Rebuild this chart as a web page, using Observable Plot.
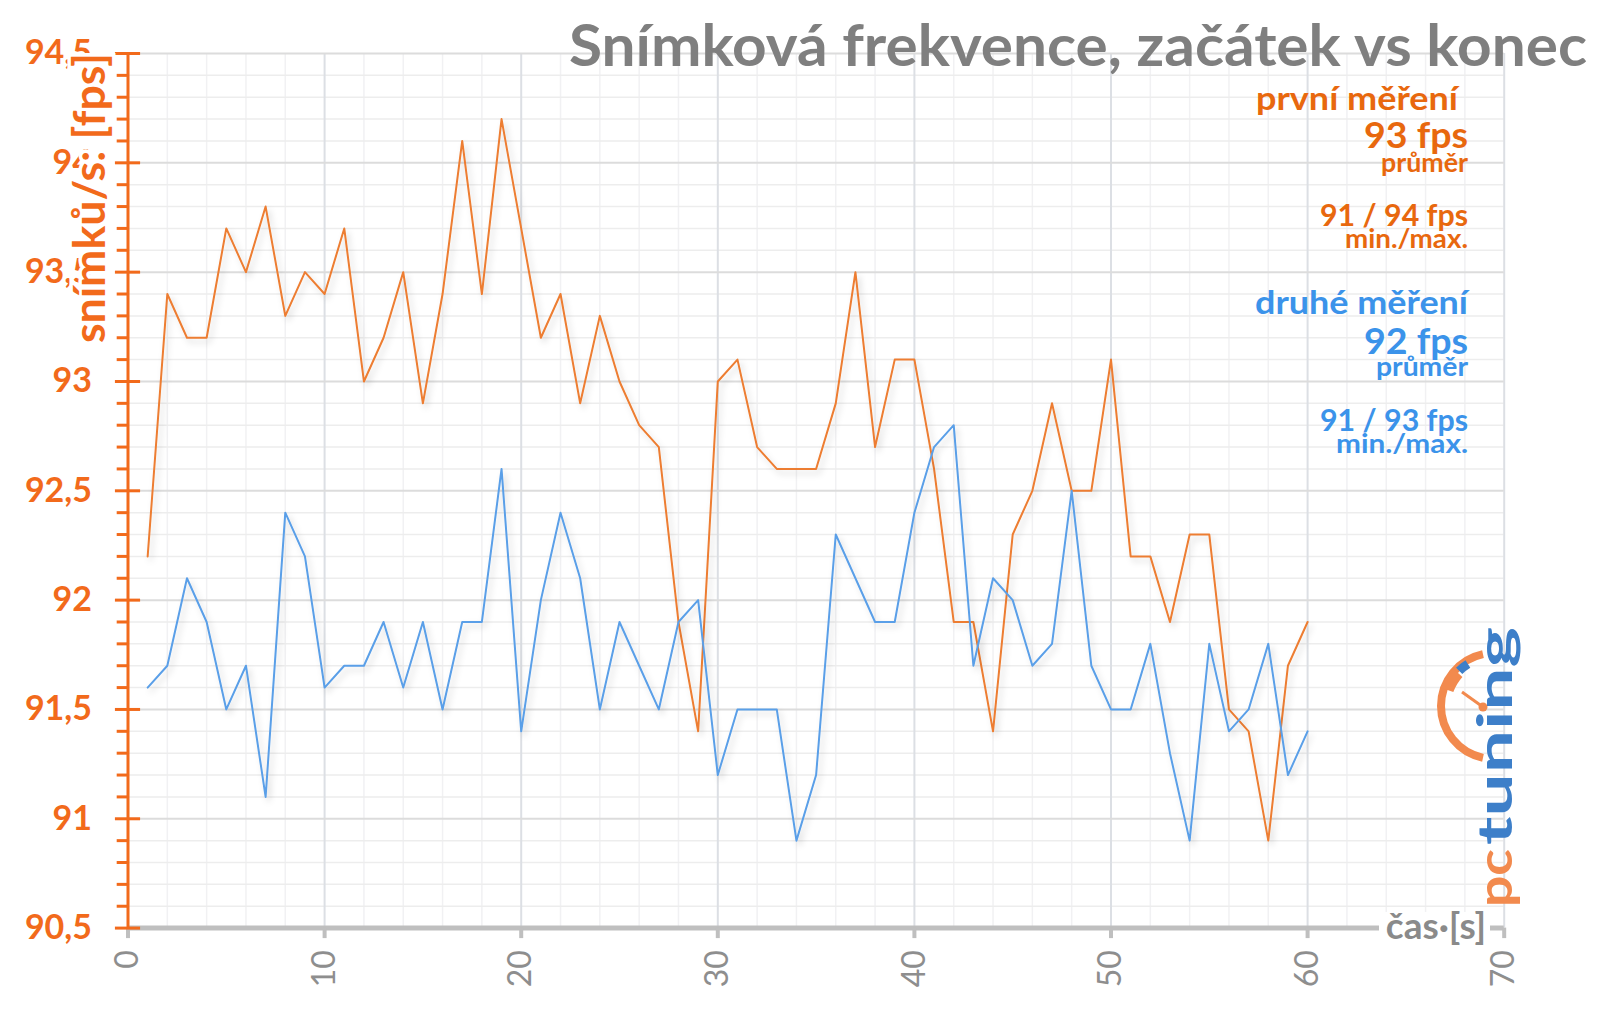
<!DOCTYPE html>
<html>
<head>
<meta charset="utf-8">
<script src="https://cdn.jsdelivr.net/npm/d3@7"></script>
<script src="https://cdn.jsdelivr.net/npm/@observablehq/plot@0.6"></script>
<style>
  html, body { margin: 0; padding: 0; background: #ffffff; }
  #chart svg { display: block; }
</style>
</head>
<body>
<div id="chart"></div>
<script>
// ---------- data ----------
const seconds = [1,2,3,4,5,6,7,8,9,10,11,12,13,14,15,16,17,18,19,20,21,22,23,24,25,26,27,28,29,30,
                 31,32,33,34,35,36,37,38,39,40,41,42,43,44,45,46,47,48,49,50,51,52,53,54,55,56,57,58,59,60];
const prvniMereni = [92.2,93.4,93.2,93.2,93.7,93.5,93.8,93.3,93.5,93.4,93.7,93.0,93.2,93.5,92.9,93.4,94.1,93.4,94.2,93.7,
                     93.2,93.4,92.9,93.3,93.0,92.8,92.7,91.9,91.4,93.0,93.1,92.7,92.6,92.6,92.6,92.9,93.5,92.7,93.1,93.1,
                     92.6,91.9,91.9,91.4,92.3,92.5,92.9,92.5,92.5,93.1,92.2,92.2,91.9,92.3,92.3,91.5,91.4,90.9,91.7,91.9];
const druheMereni = [91.6,91.7,92.1,91.9,91.5,91.7,91.1,92.4,92.2,91.6,91.7,91.7,91.9,91.6,91.9,91.5,91.9,91.9,92.6,91.4,
                     92.0,92.4,92.1,91.5,91.9,91.7,91.5,91.9,92.0,91.2,91.5,91.5,91.5,90.9,91.2,92.3,92.1,91.9,91.9,92.4,
                     92.7,92.8,91.7,92.1,92.0,91.7,91.8,92.5,91.7,91.5,91.5,91.8,91.3,90.9,91.8,91.4,91.5,91.8,91.2,91.4];
const yTickValues = [90.5,91,91.5,92,92.5,93,93.5,94,94.5];
const xTickValues = [0,10,20,30,40,50,60,70];
const chartTitle = "Snímková frekvence, začátek vs konec";
const yAxisTitle = "snímků/s: [fps]";
const xAxisTitle = "čas·[s]";
const legendFirst = ["první měření", "93 fps", "průměr", "91 / 94 fps", "min./max."];
const legendSecond = ["druhé měření", "92 fps", "průměr", "91 / 93 fps", "min./max."];
const logoParts = ["pc", "tuning"];

// ---------- derived tables ----------
const series1 = seconds.map((s, i) => ({s, v: prvniMereni[i]}));
const series2 = seconds.map((s, i) => ({s, v: druheMereni[i]}));
const xMinor = d3.range(0, 71, 2).filter(d => d % 10 !== 0);
const yMinor = d3.range(905, 946).filter(d => d % 5 !== 0).map(d => d / 10);
const fmtComma = d => String(d).replace(".", ",");

// ---------- colours ----------
const cOrangeAxis = "#f26a1b";
const cOrangeLine = "#ed7d31";
const cBlueLine = "#5a9fe8";
const cOrangeText = "#e8680e";
const cBlueText = "#3b93ea";
const cGray = "#7f7f7f";
const cLogoOrange = "#f28a4e";
const cLogoBlue = "#3d7fc9";

const W = 1600, H = 1010;

const plot = Plot.plot({
  width: W,
  height: H,
  marginLeft: 127.5,
  marginRight: 96.3,
  marginTop: 53,
  marginBottom: 82.4,
  style: {fontFamily: "Lato, 'Open Sans', sans-serif", background: "#ffffff", overflow: "visible"},
  x: {domain: [0, 70], axis: null},
  y: {domain: [90.5, 94.5], axis: null},
  marks: [
    // grid
    Plot.ruleX(xMinor, {stroke: "#f1f1f3", strokeWidth: 1.5}),
    Plot.ruleY(yMinor, {stroke: "#ededed", strokeWidth: 1.5}),
    Plot.ruleX(xTickValues, {stroke: "#dcdfe4", strokeWidth: 2}),
    Plot.ruleY(yTickValues, {stroke: "#dcdcdc", strokeWidth: 2}),
    // data lines
    Plot.line(series1, {x: "s", y: "v", stroke: cOrangeLine, strokeWidth: 2}),
    Plot.line(series2, {x: "s", y: "v", stroke: cBlueLine, strokeWidth: 2}),
    // x axis
    Plot.ruleY([90.5], {stroke: "#bfbfbf", strokeWidth: 5}),
    Plot.ruleX(xTickValues, {y1: 90.5, y2: 90.452, stroke: "#bfbfbf", strokeWidth: 4}),
    Plot.text(xTickValues, {x: d => d, y: 90.5, text: d => String(d), rotate: -90, textAnchor: "end",
      dy: 22, fill: "#8e8e8e", fontSize: 32}),
    // y axis
    Plot.ruleY(yMinor, {x1: -0.55, x2: 0, stroke: cOrangeAxis, strokeWidth: 3}),
    Plot.ruleY(yTickValues, {x1: -0.64, x2: 0.64, stroke: cOrangeAxis, strokeWidth: 3}),
    Plot.ruleX([0], {stroke: cOrangeAxis, strokeWidth: 3}),
    Plot.text(yTickValues, {x: 0, y: d => d, text: fmtComma, textAnchor: "end", dx: -36,
      fill: cOrangeAxis, fontSize: 34, fontWeight: "bold"})
  ]
});

document.getElementById("chart").appendChild(plot);

// ---------- annotations ----------
const svg = d3.select(plot);

// line shadow
const defs = svg.insert("defs", ":first-child");
const f = defs.append("filter").attr("id", "lineShadow").attr("x", "-5%").attr("y", "-5%").attr("width", "110%").attr("height", "115%");
f.append("feDropShadow").attr("dx", 3).attr("dy", 4).attr("stdDeviation", 3)
  .attr("flood-color", "#000").attr("flood-opacity", 0.16);
svg.selectAll('g[aria-label="line"]').attr("filter", "url(#lineShadow)");

// y axis title with white halo
svg.append("text")
  .attr("transform", "translate(105,198) rotate(-90)")
  .attr("text-anchor", "middle")
  .attr("font-size", 43)
  .attr("font-weight", "bold")
  .attr("fill", cOrangeAxis)
  .attr("stroke", "#ffffff")
  .attr("stroke-width", 7)
  .attr("paint-order", "stroke")
  .attr("textLength", 290)
  .attr("lengthAdjust", "spacingAndGlyphs")
  .text(yAxisTitle);

// x axis title
svg.append("rect").attr("x", 1379).attr("y", 912).attr("width", 111).attr("height", 32).attr("fill", "#ffffff");
svg.append("text")
  .attr("x", 1436).attr("y", 939)
  .attr("text-anchor", "middle")
  .attr("font-size", 37)
  .attr("font-weight", "bold")
  .attr("fill", "#8a8a8a")
  .text(xAxisTitle);

// chart title
svg.append("text")
  .attr("x", 1587).attr("y", 66)
  .attr("text-anchor", "end")
  .attr("font-size", 58)
  .attr("font-weight", "bold")
  .attr("fill", cGray)
  .attr("textLength", 1018)
  .attr("lengthAdjust", "spacingAndGlyphs")
  .text(chartTitle);

// legend blocks
function legendBlock(lines, color, baselines, sizes, rights, lengths) {
  lines.forEach((t, i) => {
    svg.append("text")
      .attr("x", rights[i]).attr("y", baselines[i])
      .attr("text-anchor", "end")
      .attr("font-size", sizes[i])
      .attr("font-weight", "bold")
      .attr("fill", color)
      .attr("textLength", lengths[i])
      .attr("lengthAdjust", "spacingAndGlyphs")
      .text(t);
  });
}
legendBlock(legendFirst, cOrangeText, [110, 148, 172, 226, 248], [32, 37, 27, 31, 27],
  [1458, 1468, 1468, 1468, 1468], [202, 104, 87, 148, 123]);
legendBlock(legendSecond, cBlueText, [314, 354, 376, 431, 453], [32, 37, 27, 31, 27],
  [1468, 1468, 1468, 1468, 1468], [213, 104, 92, 148, 132]);

// logo: gauge
const cx = 1494, cy = 706, r = 53;
const pt = a => [cx + r * Math.cos(a * Math.PI / 180), cy + r * Math.sin(a * Math.PI / 180)];
function arcPath(a0, a1) {
  const p0 = pt(a0), p1 = pt(a1);
  return `M${p0[0]},${p0[1]} A${r},${r} 0 0 0 ${p1[0]},${p1[1]}`;
}
const logo = svg.append("g");
logo.append("path").attr("d", arcPath(258, 102))
  .attr("fill", "none").attr("stroke", cLogoOrange).attr("stroke-width", 8);
logo.append("path").attr("d", arcPath(222, 200))
  .attr("fill", "none").attr("stroke", cLogoOrange).attr("stroke-width", 13)
  .attr("transform", "translate(3,2)");
logo.append("path").attr("d", arcPath(238, 226))
  .attr("fill", "none").attr("stroke", cLogoBlue).attr("stroke-width", 9)
  .attr("transform", "translate(2,3)");
logo.append("line")
  .attr("x1", 1462).attr("y1", 692).attr("x2", 1483).attr("y2", 707)
  .attr("stroke", cLogoOrange).attr("stroke-width", 3);
logo.append("circle").attr("cx", 1483).attr("cy", 707).attr("r", 4.5).attr("fill", cLogoOrange);
// logo: word mark (reads bottom to top)
logo.append("text")
  .attr("transform", "translate(1512,907) rotate(-90)")
  .attr("text-anchor", "start")
  .attr("font-size", 48).attr("font-weight", "bold")
  .attr("fill", cLogoOrange)
  .attr("textLength", 58).attr("lengthAdjust", "spacingAndGlyphs")
  .text(logoParts[0]);
logo.append("text")
  .attr("transform", "translate(1512,845) rotate(-90)")
  .attr("text-anchor", "start")
  .attr("font-size", 48).attr("font-weight", "bold")
  .attr("fill", cLogoBlue)
  .attr("textLength", 218).attr("lengthAdjust", "spacingAndGlyphs")
  .text(logoParts[1]);
</script>
</body>
</html>
